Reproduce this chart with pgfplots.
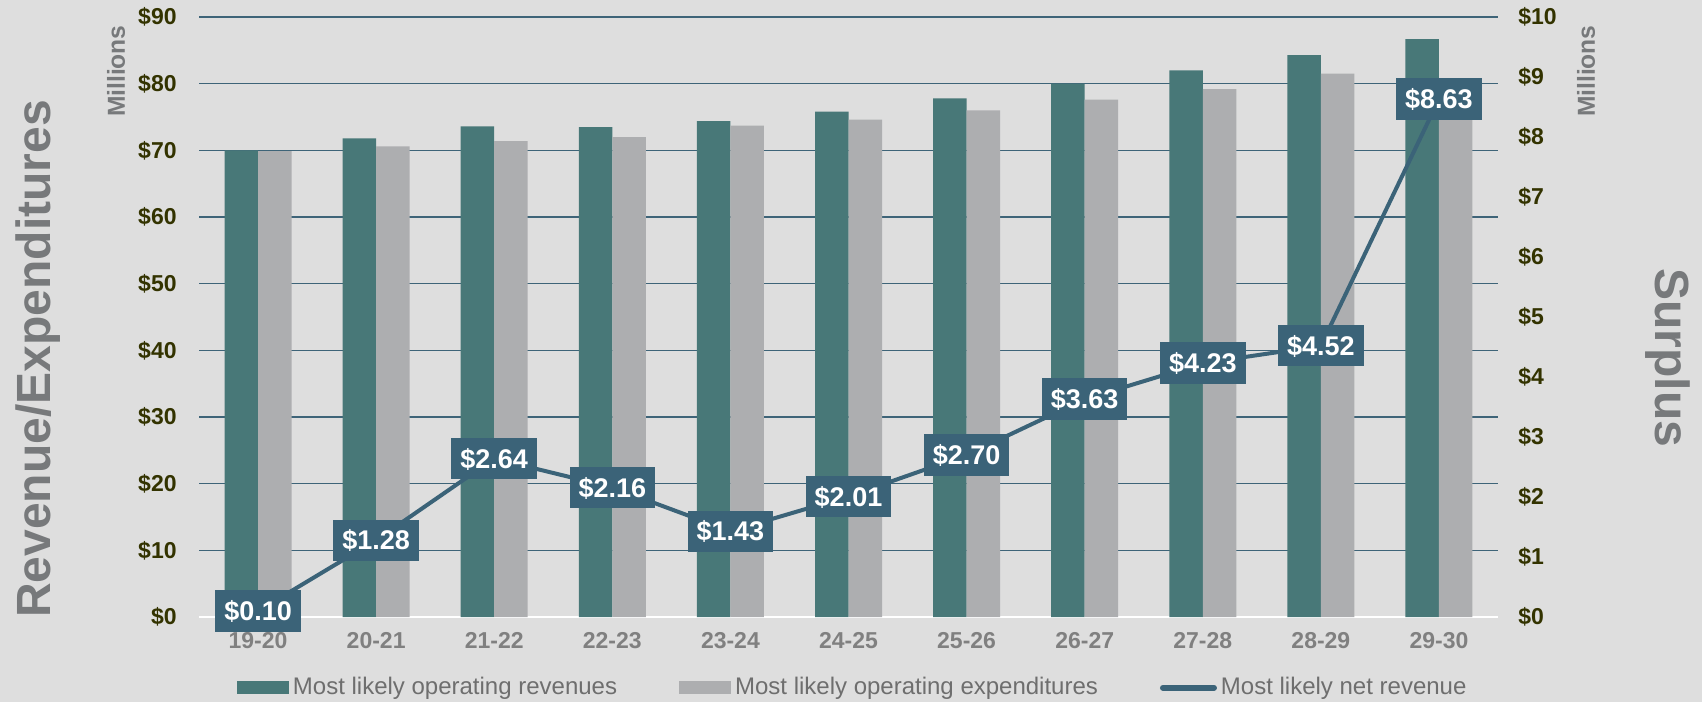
\documentclass[border=0pt]{standalone}
\usepackage{pgfplots}
\pgfplotsset{compat=1.18}
\usepackage{pgfplotstable}
\usepackage{fontspec}
\setmainfont{Liberation Sans}
\definecolor{bg}{HTML}{DEDEDE}
\definecolor{revcol}{HTML}{487878}
\definecolor{expcol}{HTML}{ADAEB0}
\definecolor{netcol}{HTML}{3B6378}
\definecolor{gridcol}{HTML}{3E6478}
\definecolor{tickcol}{HTML}{333300}
\definecolor{titlecol}{HTML}{77797B}
\definecolor{xtickcol}{HTML}{808080}
\definecolor{legcol}{HTML}{6E6E6E}

\pgfplotstableread{
x rev exp
0 70.0 69.9
1 71.8 70.6
2 73.6 71.4
3 73.5 72.0
4 74.4 73.7
5 75.8 74.6
6 77.8 76.0
7 80.0 77.6
8 82.0 79.2
9 84.3 81.5
10 86.7 78.3
}\bardata

\pgfplotstableread{
x y lab
0 0.10 0.10
1 1.28 1.28
2 2.64 2.64
3 2.16 2.16
4 1.43 1.43
5 2.01 2.01
6 2.70 2.70
7 3.63 3.63
8 4.23 4.23
9 4.52 4.52
10 8.63 8.63
}\netdata

\begin{document}
\begin{tikzpicture}
\path[use as bounding box, fill=bg] (0,0) rectangle (851pt,351pt);
\begin{axis}[
  at={(99.5pt,42.5pt)}, anchor=south west, scale only axis,
  width=649.5pt, height=300pt,
  xmin=-0.5, xmax=10.5, ymin=0, ymax=90,
  ybar=0pt, bar width=16.75pt,
  axis line style={draw=none}, major tick style={draw=none},
  xtick={0,...,10},
  xticklabels={19-20,20-21,21-22,22-23,23-24,24-25,25-26,26-27,27-28,28-29,29-30},
  ytick={0,10,...,90},
  yticklabels={\$0,\$10,\$20,\$30,\$40,\$50,\$60,\$70,\$80,\$90},
  ymajorgrids, y grid style={gridcol, line width=0.8pt},
  yticklabel style={font=\fontsize{11.5}{13}\selectfont\bfseries, text=tickcol, anchor=east, inner sep=0pt, xshift=-11pt},
  xticklabel style={font=\fontsize{11.5}{13}\selectfont\bfseries, text=xtickcol, anchor=north, inner sep=0pt, yshift=-3.5pt},
  legend columns=3,
  legend style={at={(0.504,-0.118)}, anchor=center, draw=none, fill=none,
    font=\fontsize{12}{14}\selectfont, text=legcol,
    nodes={inner xsep=2pt, inner ysep=0pt},
    /tikz/every even column/.append style={column sep=29pt}},
]
\draw[white, line width=1pt] (rel axis cs:0,0) -- (rel axis cs:1,0);
\addplot[fill=revcol, draw=none,
  legend image code/.code={\fill[revcol] (0pt,-3.25pt) rectangle (26pt,3.25pt);}]
  table[x=x, y=rev] {\bardata};
\addlegendentry{Most likely operating revenues}
\addplot[fill=expcol, draw=none,
  legend image code/.code={\fill[expcol] (0pt,-3.25pt) rectangle (26pt,3.25pt);}]
  table[x=x, y=exp] {\bardata};
\addlegendentry{Most likely operating expenditures}
\addlegendimage{legend image code/.code={\draw[netcol, line width=3pt, line cap=round] (1.5pt,0pt) -- (27pt,0pt);}}
\addlegendentry{Most likely net revenue}
\end{axis}

\begin{axis}[
  at={(99.5pt,42.5pt)}, anchor=south west, scale only axis,
  width=649.5pt, height=300pt,
  xmin=-0.5, xmax=10.5, ymin=0, ymax=10,
  axis line style={draw=none}, major tick style={draw=none},
  xtick=\empty,
  ytick={0,...,10},
  yticklabels={\$0,\$1,\$2,\$3,\$4,\$5,\$6,\$7,\$8,\$9,\$10},
  yticklabel pos=right,
  yticklabel style={font=\fontsize{11.5}{13}\selectfont\bfseries, text=tickcol, anchor=west, inner sep=0pt, xshift=10pt},
  clip=false,
]
\addplot[netcol, line width=2pt, mark=none, line join=round,
  point meta=explicit symbolic,
  nodes near coords={\$\pgfplotspointmeta},
  every node near coord/.append style={anchor=center, fill=netcol, text=white,
    font=\fontsize{13.5}{16}\selectfont\bfseries, inner xsep=4.5pt, inner ysep=5.5pt,
    text height=9.7pt, text depth=0pt}]
  table[x=x, y=y, meta=lab] {\netdata};
\end{axis}

\node[rotate=90, anchor=east, inner sep=0pt, font=\fontsize{12.3}{14}\selectfont\bfseries, text=titlecol] at (58pt,338.5pt) {Millions};
\node[rotate=90, anchor=east, inner sep=0pt, font=\fontsize{12.3}{14}\selectfont\bfseries, text=titlecol] at (793pt,338.5pt) {Millions};
\node[rotate=90, inner sep=0pt, font=\fontsize{24}{28}\selectfont\bfseries, text=titlecol] at (19pt,171.5pt) {Revenue/Expenditures};
\node[rotate=-90, inner sep=0pt, font=\fontsize{24}{28}\selectfont\bfseries, text=titlecol] at (834pt,172pt) {Surplus};
\end{tikzpicture}
\end{document}
